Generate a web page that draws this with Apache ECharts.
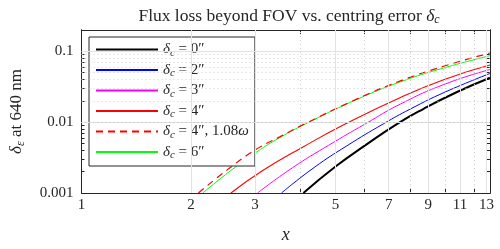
<!DOCTYPE html>
<html><head><meta charset="utf-8">
<script src="https://cdn.jsdelivr.net/npm/echarts@6/dist/echarts.min.js"></script>
<style>html,body{margin:0;padding:0;background:#fff}#c{width:500px;height:249px}</style>
</head><body><div id="c"></div>
<script>
// ---- data ----
const seriesNames = ['d0', 'd2', 'd3', 'd4', 'd4w', 'd6'];
const legendLabels = [
  '{d|δ}{s|c}{n| = 0″}',
  '{d|δ}{s|c}{n| = 2″}',
  '{d|δ}{s|c}{n| = 3″}',
  '{d|δ}{s|c}{n| = 4″}',
  '{d|δ}{s|c}{n| = 4″, 1.08}{d|ω}',
  '{d|δ}{s|c}{n| = 6″}'
];
const seriesColors = ['#000000', '#0000ff', '#ff00ff', '#ff0000', '#ff0000', '#00ff00'];

const x0 = [4.078, 5.01, 6.03, 7.39, 8.71, 10.72, 13.3];
const y0 = [0.001, 0.00238, 0.0047, 0.00947, 0.01533, 0.02624, 0.0424];
const x2 = [3.549, 4.365, 5.37, 6.77, 8.03, 10.0, 13.3];
const y2 = [0.001, 0.00229, 0.00463, 0.00947, 0.01533, 0.02655, 0.0487];
const x3 = [3.050, 3.80, 4.786, 6.04, 7.537, 10.0, 13.3];
const y3 = [0.001, 0.00226, 0.00472, 0.00947, 0.018, 0.0345, 0.0554];
const x4 = [2.577, 3.16, 4.07, 5.33, 7.54, 10.0, 13.3];
const y4 = [0.001, 0.00209, 0.00447, 0.00947, 0.0223, 0.0404, 0.064];
const x4w = [2.097, 2.523, 3.0, 3.51, 4.138, 5.733, 7.537, 9.908, 13.3];
const y4w = [0.001, 0.00214, 0.00403, 0.0062, 0.0096, 0.0213, 0.0382, 0.0615, 0.0946];
const x6 = [2.156, 2.577, 3.04, 3.51, 4.138, 5.733, 7.537, 9.908, 13.3];
const y6 = [0.001, 0.00208, 0.00382, 0.00604, 0.00947, 0.0210, 0.037, 0.0581, 0.0868];

const xMajor = [1, 2, 3, 5, 7, 9, 11, 13];
const xMinor = [4, 6, 8, 10, 12];
const xLabels = [1, 2, 3, 5, 7, 9, 11, 13];
const yMajor = [0.001, 0.01, 0.1];
const yMinor = [0.002, 0.003, 0.004, 0.005, 0.006, 0.007, 0.008, 0.009,
                0.02, 0.03, 0.04, 0.05, 0.06, 0.07, 0.08, 0.09];
const yLabels = [0.001, 0.01, 0.1];
const xRange = [1, 13.3];
const yRange = [0.001, 0.2];

// ---- chart ----
const SERIF = "'Liberation Serif', 'DejaVu Serif', serif";
const AX = '#262626';
function richSet(size, subSize, subPad) {
  return {
    n: { fontFamily: SERIF, fontSize: size, fontWeight: 'normal', color: AX },
    d: { fontFamily: SERIF, fontSize: size, fontWeight: 'normal', fontStyle: 'italic', color: AX },
    s: { fontFamily: SERIF, fontSize: subSize, fontWeight: 'normal', fontStyle: 'italic', color: AX, padding: [subPad, 0, 0, 0] }
  };
}
const zip = (xs, ys) => xs.map((x, i) => [x, ys[i]]);
const xs = [x0, x2, x3, x4, x4w, x6];
const ys = [y0, y2, y3, y4, y4w, y6];
const widths = [2, 1, 1, 1.1, 1.2, 1];
const types = ['solid', 'solid', 'solid', 'solid', [7, 5], 'solid'];

function xAx(pos, vals, len, labels) {
  return {
    type: 'log', logBase: 10, min: xRange[0], max: xRange[1], position: pos,
    axisLine: { show: true, onZero: false, lineStyle: { color: AX, width: 1 } },
    axisTick: { show: true, inside: true, length: len, customValues: vals, lineStyle: { color: AX } },
    axisLabel: labels ? { show: true, customValues: xLabels, fontFamily: SERIF, fontSize: 15, color: AX, margin: 5,
                          formatter: v => String(Math.round(v)) } : { show: false },
    splitLine: { show: false }, minorTick: { show: false }
  };
}
function yAx(pos, vals, len, labels) {
  return {
    type: 'log', logBase: 10, min: yRange[0], max: yRange[1], position: pos,
    axisLine: { show: true, onZero: false, lineStyle: { color: AX, width: 1 } },
    axisTick: { show: true, inside: true, length: len, customValues: vals, lineStyle: { color: AX } },
    axisLabel: labels ? { show: true, customValues: yLabels, fontFamily: SERIF, fontSize: 15, color: AX, margin: 8,
                          formatter: v => (v >= 0.1 ? '0.1' : v >= 0.01 ? '0.01' : '0.001') } : { show: false },
    splitLine: { show: false }, minorTick: { show: false }
  };
}

const xAxes = [xAx('bottom', xMajor.concat(xMinor), 4, true), xAx('top', xMajor.concat(xMinor), 4, false)];
xAxes[0].name = 'x';
xAxes[0].nameLocation = 'middle';
xAxes[0].nameGap = 33;
xAxes[0].nameTextStyle = { fontFamily: SERIF, fontSize: 18, fontStyle: 'italic', color: AX };
const yAxes = [yAx('left', yMajor, 5, true), yAx('right', yMajor, 5, false),
               yAx('left', yMinor, 3, false), yAx('right', yMinor, 3, false)];
yAxes[0].name = '{d|δ}{s|ε}{n| at 640 nm}';
yAxes[0].nameLocation = 'middle';
yAxes[0].nameRotate = 90;
yAxes[0].nameGap = 55;
yAxes[0].nameTextStyle = { rich: richSet(17, 12, 8) };

const gridLines = []
  .concat(xMajor.slice(1).map(v => ({ xAxis: v, lineStyle: { color: '#e3e3e3', width: 1, type: 'solid' } })))
  .concat(xMinor.map(v => ({ xAxis: v, lineStyle: { color: '#cfcfcf', width: 1, type: [1, 3] } })))
  .concat(yMajor.slice(1).map(v => ({ yAxis: v, lineStyle: { color: '#e3e3e3', width: 1, type: 'solid' } })))
  .concat(yMinor.map(v => ({ yAxis: v, lineStyle: { color: '#cfcfcf', width: 1, type: [1, 3] } })));

const series = [{
  name: 'grid', type: 'line', data: [[xRange[0], yRange[0]]], symbol: 'none',
  lineStyle: { opacity: 0 }, silent: true, z: 1,
  markLine: { silent: true, symbol: 'none', animation: false, label: { show: false },
              emphasis: { disabled: true }, data: gridLines }
}];
seriesNames.forEach((n, i) => {
  series.push({
    name: n, type: 'line', data: zip(xs[i], ys[i]), symbol: 'none', showSymbol: false, smooth: 0.5,
    lineStyle: { color: seriesColors[i], width: widths[i], type: types[i] },
    itemStyle: { color: seriesColors[i] }, z: i === 4 ? 4 : 3, animation: false
  });
});

const chart = echarts.init(document.getElementById('c'), null, { renderer: 'canvas' });
chart.setOption({
  animation: false,
  backgroundColor: '#fff',
  title: {
    text: '{n|Flux loss beyond FOV vs. centring error }{d|δ}{s|c}',
    left: 284, top: 1, textAlign: 'center',
    textStyle: { fontWeight: 'normal', rich: richSet(17.5, 12, 8) }
  },
  grid: { left: 80, right: 10, top: 30, bottom: 54, containLabel: false },
  xAxis: xAxes,
  yAxis: yAxes,
  legend: {
    data: seriesNames, orient: 'vertical', left: 89, top: 37,
    itemWidth: 62, itemHeight: 14, itemGap: 4, padding: [5, 6, 5, 6],
    borderColor: AX, borderWidth: 1, backgroundColor: '#fff',
    itemStyle: { opacity: 0 },
    formatter: name => legendLabels[seriesNames.indexOf(name)],
    textStyle: { rich: richSet(15, 11, 7) }, selectedMode: false
  },
  series: series
});
</script></body></html>
